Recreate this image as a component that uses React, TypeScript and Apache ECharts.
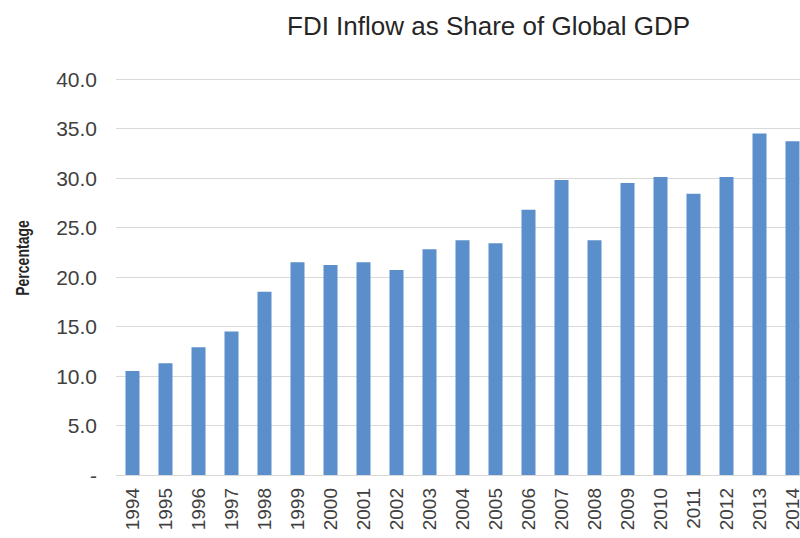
import React, { useEffect, useRef } from "react";
import * as echarts from "echarts";

const years = [
  "1994", "1995", "1996", "1997", "1998", "1999", "2000", "2001", "2002", "2003", "2004",
  "2005", "2006", "2007", "2008", "2009", "2010", "2011", "2012", "2013", "2014",
];
const fdiShare = [
  10.5, 11.3, 12.9, 14.5, 18.5, 21.5, 21.2, 21.5, 20.7, 22.8, 23.7,
  23.4, 26.8, 29.8, 23.7, 29.5, 30.1, 28.4, 30.1, 34.5, 33.7,
];
const titleText = "FDI Inflow as Share of Global GDP";
const yAxisTitle = "Percentage";

const FONT = "'Liberation Sans', Arial, sans-serif";

export default function App() {
  const ref = useRef<HTMLDivElement>(null);
  useEffect(() => {
    if (!ref.current) return;
    const chart = echarts.init(ref.current, undefined, { renderer: "svg" });
    chart.setOption({
      animation: false,
      backgroundColor: "#ffffff",
      title: {
        text: titleText,
        left: 282,
        top: 8,
        textStyle: { fontFamily: FONT, fontSize: 26, fontWeight: "normal", color: "#262626" },
      },
      graphic: [
        {
          type: "text",
          x: 22,
          y: 258,
          rotation: Math.PI / 2,
          scaleX: 0.78,
          style: {
            text: yAxisTitle,
            fontFamily: FONT,
            fontSize: 18,
            fontWeight: "bold",
            fill: "#262626",
            align: "center",
            verticalAlign: "middle",
          },
        },
      ],
      grid: {
        left: 116,
        top: 79,
        width: 693,
        height: 396,
        containLabel: false,
        outerBoundsMode: "none",
      },
      xAxis: {
        type: "category",
        data: years,
        axisTick: { show: false },
        axisLine: { lineStyle: { color: "#d9d9d9", width: 1 } },
        axisLabel: {
          rotate: 90,
          margin: 13,
          interval: 0,
          fontFamily: FONT,
          fontSize: 19,
          color: "#404040",
        },
      },
      yAxis: {
        type: "value",
        min: 0,
        max: 40,
        interval: 5,
        axisLine: { show: false },
        axisTick: { show: false },
        splitLine: { lineStyle: { color: "#d9d9d9", width: 1 } },
        axisLabel: {
          margin: 19,
          fontFamily: FONT,
          fontSize: 21,
          color: "#404040",
          formatter: (v: number) => (v === 0 ? "-" : v.toFixed(1)),
        },
      },
      series: [
        {
          type: "bar",
          data: fdiShare,
          barWidth: 14,
          itemStyle: { color: "#5b8fcb" },
        },
      ],
    });
    return () => chart.dispose();
  }, []);
  return (
    <div
      ref={ref}
      style={{ position: "absolute", left: 0, top: 0, width: 800, height: 538 }}
    />
  );
}
